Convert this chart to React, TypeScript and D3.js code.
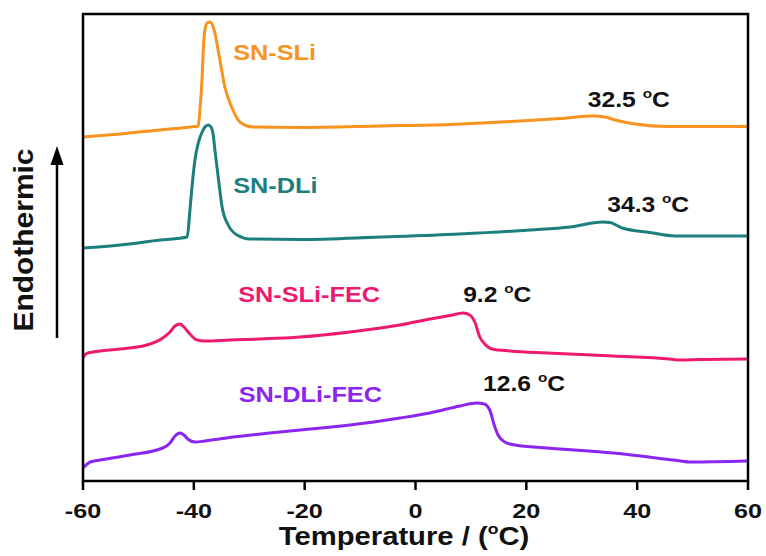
import React from 'react';
import * as d3 from 'd3';

// ── Data (temperature °C, heat flow a.u., offset per trace) ───────────────────
const sliT = [-60, -53.3, -46.1, -40.7, -39.2, -38.9, -38.5, -38.3, -38.0, -37.6, -37.1, -36.5, -36.2, -35.3, -34.4, -33.1, -31.7, -29.3, -20.8, -6.4, 6.2, 18.9, 26.1, 32.0, 34.2, 36.0, 39.6, 45.4, 51.3, 60];
const sliV = [34.4, 34.7, 35.1, 35.4, 35.5, 37.1, 40.4, 43.1, 45.1, 45.8, 45.9, 45.4, 44.8, 42.1, 39.4, 37.3, 35.9, 35.4, 35.35, 35.5, 35.65, 36.0, 36.25, 36.5, 36.4, 36.1, 35.7, 35.45, 35.45, 35.45];

const dliT = [-60, -53.3, -46.1, -41.2, -40.7, -40.3, -39.8, -39.2, -38.5, -38.0, -37.4, -36.9, -36.5, -36.2, -35.6, -34.9, -33.8, -32.2, -29.9, -20.8, -6.4, 8.0, 20.7, 27.9, 33.7, 35.1, 37.3, 42.3, 46.8, 51.3, 60];
const dliV = [23.3, 23.6, 24.1, 24.4, 27.1, 29.6, 32.1, 33.8, 34.9, 35.4, 35.6, 35.4, 34.6, 33.1, 30.4, 27.4, 25.6, 24.6, 24.2, 24.15, 24.4, 24.7, 25.1, 25.4, 25.9, 25.85, 25.3, 24.85, 24.5, 24.5, 24.5];

const sliFecT = [-60, -59.5, -58.2, -53.3, -48.5, -45.6, -44.3, -43.4, -42.5, -41.8, -40.7, -39.4, -38.0, -33.5, -28.1, -20.8, -11.8, -2.8, 2.6, 6.2, 8.6, 9.8, 10.7, 11.6, 12.5, 13.8, 17.1, 23.7, 35.7, 45.9, 47.7, 51.3, 60];
const sliFecV = [12.3, 12.7, 12.9, 13.2, 13.6, 14.3, 14.9, 15.5, 15.7, 15.4, 14.7, 14.1, 14.0, 14.1, 14.2, 14.4, 14.9, 15.6, 16.2, 16.55, 16.8, 16.6, 15.9, 14.4, 13.7, 13.2, 13.0, 12.8, 12.5, 12.2, 12.1, 12.15, 12.2];

const dliFecT = [-60, -58.7, -56.9, -51.5, -45.6, -44.3, -43.4, -42.5, -41.8, -41.1, -39.8, -38.0, -32.9, -26.3, -20.8, -11.8, -2.8, 2.6, 8.0, 11.1, 12.4, 13.4, 14.2, 14.9, 16.1, 18.0, 23.7, 35.7, 46.5, 49.5, 60];
const dliFecV = [1.3, 1.9, 2.1, 2.6, 3.3, 3.8, 4.5, 4.8, 4.6, 4.2, 3.9, 4.0, 4.4, 4.8, 5.1, 5.6, 6.3, 6.8, 7.5, 7.8, 7.7, 7.1, 5.6, 4.6, 3.9, 3.6, 3.3, 2.8, 2.1, 1.9, 2.0];

const seriesNames = ['SN-SLi', 'SN-DLi', 'SN-SLi-FEC', 'SN-DLi-FEC'];
const seriesColors = ['#F7931E', '#1B807D', '#EE1A6E', '#8A25F2'];
const seriesT = [sliT, dliT, sliFecT, dliFecT];
const seriesV = [sliV, dliV, sliFecV, dliFecV];
// label anchor (T, value) for each series name
const nameT = [-32.9, -32.9, -32.0, -31.9];
const nameV = [42.1, 28.8, 17.9, 7.9];

// peak annotations
const peakText = ['32.5', '34.3', '9.2', '12.6'];
const peakT = [31.1, 34.6, 8.6, 12.2];
const peakV = [37.4, 26.9, 17.9, 9.0];

const xTicks = [-60, -40, -20, 0, 20, 40, 60];

const W = 766;
const H = 556;
const MARGIN = { left: 83, right: 18, top: 14, bottom: 75 };
const FONT = '"Liberation Sans", Arial, sans-serif';

function SText(props: {
  x: number;
  y: number;
  size: number;
  sx?: number;
  rotate?: number;
  anchor?: string;
  fill?: string;
  children: React.ReactNode;
}) {
  const { x, y, size, sx = 1.15, rotate = 0, anchor = 'start', fill = '#111', children } = props;
  return (
    <text
      transform={`translate(${x},${y}) rotate(${rotate}) scale(${sx},1)`}
      fontSize={size}
      fontWeight="bold"
      fontFamily={FONT}
      textAnchor={anchor}
      fill={fill}
    >
      {children}
    </text>
  );
}

function Deg({ size }: { size: number }) {
  return (
    <>
      <tspan fontSize={size * 0.62} dy={-size * 0.42}>o</tspan>
      <tspan dy={size * 0.42}>C</tspan>
    </>
  );
}

export default function App() {
  const innerW = W - MARGIN.left - MARGIN.right;
  const innerH = H - MARGIN.top - MARGIN.bottom;
  const x = d3.scaleLinear().domain([-60, 60]).range([MARGIN.left, MARGIN.left + innerW]);
  const y = d3.scaleLinear().domain([0, 46.7]).range([MARGIN.top + innerH, MARGIN.top]);

  const line = d3
    .line<[number, number]>()
    .x((d) => x(d[0]))
    .y((d) => y(d[1]))
    .curve(d3.curveMonotoneX);

  const bottom = MARGIN.top + innerH;

  return (
    <svg
      width={W}
      height={H}
      style={{ position: 'absolute', left: 0, top: 0, background: '#fff' }}
    >
      {/* traces */}
      {seriesNames.map((name, i) => (
        <path
          key={name}
          d={line(seriesT[i].map((t, k) => [t, seriesV[i][k]] as [number, number])) ?? ''}
          fill="none"
          stroke={seriesColors[i]}
          strokeWidth={3}
          strokeLinejoin="round"
        />
      ))}

      {/* frame */}
      <rect
        x={MARGIN.left}
        y={MARGIN.top}
        width={innerW}
        height={innerH}
        fill="none"
        stroke="#000"
        strokeWidth={2.5}
      />

      {/* x ticks */}
      {xTicks.map((t) => (
        <g key={t}>
          <line x1={x(t)} x2={x(t)} y1={bottom} y2={bottom + 9} stroke="#000" strokeWidth={2.5} />
          <SText x={x(t)} y={518} size={21} sx={1.2} anchor="middle">
            {t}
          </SText>
        </g>
      ))}

      {/* axis title */}
      <SText x={404} y={545} size={25} sx={1.17} anchor="middle">
        Temperature / (<tspan fontSize={15} dy={-11}>o</tspan>
        <tspan dy={11}>C)</tspan>
      </SText>

      {/* y label + arrow */}
      <SText x={33} y={240} size={28} sx={1.07} rotate={-90} anchor="middle">
        Endothermic
      </SText>
      <line x1={57} x2={57} y1={338} y2={162} stroke="#000" strokeWidth={2.5} />
      <path d="M57,146 L50.5,165 L63.5,165 Z" fill="#000" />

      {/* series names */}
      {seriesNames.map((name, i) => (
        <SText key={name} x={x(nameT[i])} y={y(nameV[i])} size={22} sx={1.15} fill={seriesColors[i]}>
          {name}
        </SText>
      ))}

      {/* peak annotations */}
      {peakText.map((p, i) => (
        <SText key={p} x={x(peakT[i])} y={y(peakV[i])} size={22} sx={1.12}>
          {p}{' '}
          <Deg size={22} />
        </SText>
      ))}
    </svg>
  );
}
